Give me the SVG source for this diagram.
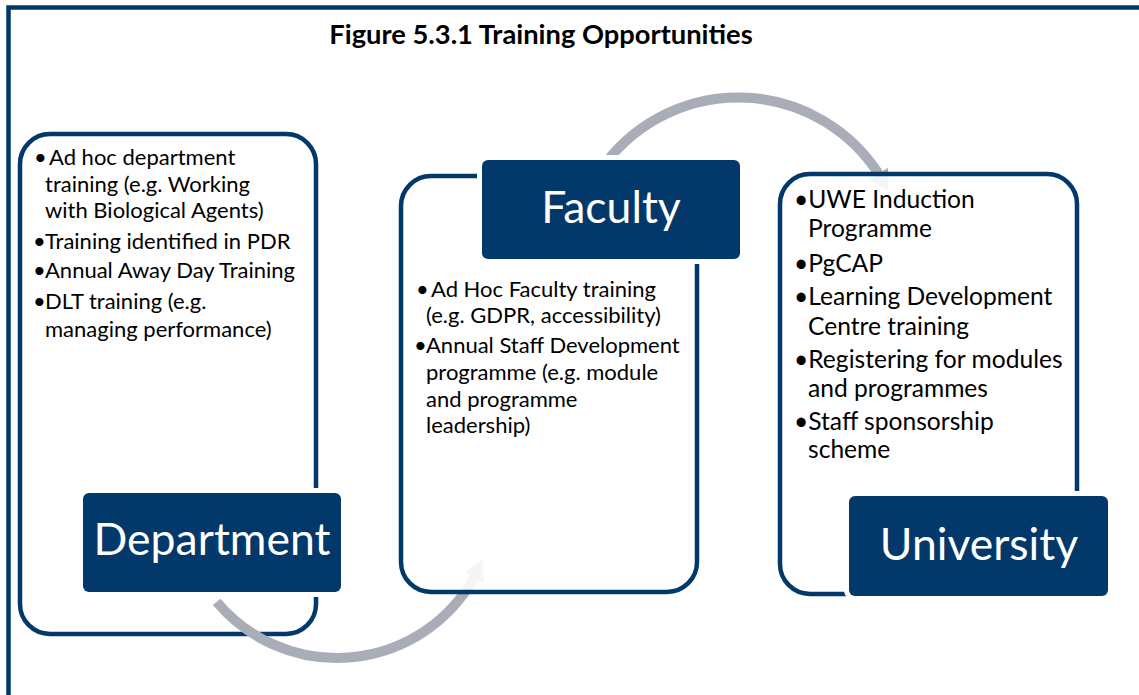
<svg xmlns="http://www.w3.org/2000/svg" width="1139" height="695" viewBox="0 0 1139 695">
<style>
.frame{fill:none;stroke:#03386A;stroke-width:4.5}
.box{fill:#fff;stroke:#03386A;stroke-width:4.5}
.boxt{fill:#fff;fill-opacity:0.88;stroke:#03386A;stroke-width:4.5}
.lbl{fill:#03386A;stroke:#fff;stroke-width:10;paint-order:stroke}
.lt{font-family:Lato,"Liberation Sans",sans-serif;fill:#fff;font-size:44.5px;text-anchor:middle}
.t{font-family:Lato,"Liberation Sans",sans-serif;fill:#000;font-size:22px}
.tu{font-size:24.6px}
.title{font-family:Lato,"Liberation Sans",sans-serif;font-weight:bold;font-size:27.3px;fill:#000;text-anchor:middle}
.arc{fill:none;stroke:#A9ADB7;stroke-width:10}
.head{fill:#A9ADB7}
</style>
<rect x="8.5" y="7.5" width="1200" height="760" class="frame"/>
<text class="title" x="541" y="44">Figure 5.3.1 Training Opportunities</text>

<g id="department-box">
<rect x="20" y="134" width="296" height="500" rx="30" class="box"/>
</g>

<g id="connectors">
<g id="arrow-dept-faculty">
<path class="arc" d="M216.7,601.9 A157,157 0 0 0 474.0,577.6"/>
<polygon class="head" points="483.7,583.0 482.7,559.6 464.4,572.2"/>
</g>
</g>

<g id="faculty-box">
<rect x="401" y="176" width="296" height="416" rx="30" class="boxt"/>
</g>

<g id="connectors2">
<path class="arc" d="M600.7,170 A167,167 0 0 1 878.6,173.8"/>
<polygon class="head" points="887.9,167.8 888.5,191.3 869.4,179.8"/>
</g>

<g id="university-box">
<rect x="780" y="174" width="297" height="420" rx="30" class="boxt"/>
</g>

<g id="department-text">
<text class="t" x="34" y="165">•<tspan x="49">Ad hoc department</tspan></text>
<text class="t" x="45" y="191.7">training (e.g. Working</text>
<text class="t" x="45" y="218.3">with Biological Agents)</text>
<text class="t" x="33" y="249.3">•<tspan x="45">Training identified in PDR</tspan></text>
<text class="t" x="33" y="278.3">•<tspan x="45">Annual Away Day Training</tspan></text>
<text class="t" x="33" y="309">•<tspan x="45">DLT training (e.g.</tspan></text>
<text class="t" x="45" y="336.7">managing performance)</text>
</g>

<g id="faculty-text">
<text class="t" x="416" y="296.7">•<tspan x="431">Ad Hoc Faculty training</tspan></text>
<text class="t" x="426" y="323.3">(e.g. GDPR, accessibility)</text>
<text class="t" x="414" y="353.3">•<tspan x="426">Annual Staff Development</tspan></text>
<text class="t" x="426" y="380">programme (e.g. module</text>
<text class="t" x="426" y="406.7">and programme</text>
<text class="t" x="426" y="433.3">leadership)</text>
</g>

<g id="university-text">
<text class="t tu" x="794" y="208.3">•UWE Induction</text>
<text class="t tu" x="808" y="236.7">Programme</text>
<text class="t tu" x="794" y="271.7">•PgCAP</text>
<text class="t tu" x="794" y="305">•Learning Development</text>
<text class="t tu" x="808" y="335">Centre training</text>
<text class="t tu" x="794" y="368.3">•Registering for modules</text>
<text class="t tu" x="808" y="396.7">and programmes</text>
<text class="t tu" x="794" y="430">•Staff sponsorship</text>
<text class="t tu" x="808" y="458.3">scheme</text>
</g>

<g id="department">
<rect x="83" y="493" width="258" height="99" rx="6" class="lbl"/>
<text class="lt" x="212" y="555">Department</text>
</g>
<g id="faculty">
<rect x="482" y="160" width="258" height="99" rx="6" class="lbl"/>
<text class="lt" x="611" y="223.3">Faculty</text>
</g>
<g id="university">
<rect x="849" y="496" width="259" height="100" rx="6" class="lbl"/>
<text class="lt" x="979" y="560">University</text>
</g>
</svg>
